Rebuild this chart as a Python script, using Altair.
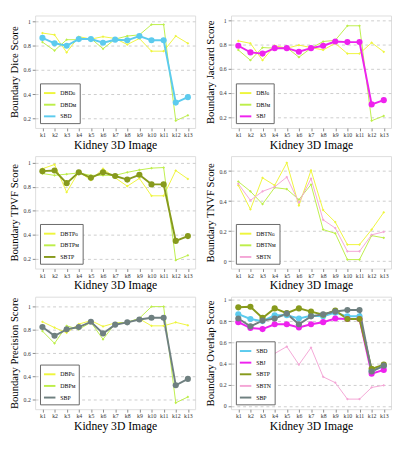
import altair as alt
import pandas as pd

images = ["k1", "k2", "k3", "k4", "k5", "k6", "k7", "k8", "k9", "k10", "k11", "k12", "k13"]

dbd_g = [0.905, 0.89, 0.745, 0.875, 0.855, 0.875, 0.86, 0.81, 0.86, 0.755, 0.755, 0.88, 0.82]
dbd_m = [0.83, 0.76, 0.85, 0.85, 0.86, 0.775, 0.855, 0.88, 0.89, 0.975, 0.975, 0.18, 0.225]
sbd = [0.865, 0.82, 0.80, 0.855, 0.855, 0.825, 0.85, 0.845, 0.88, 0.845, 0.845, 0.33, 0.375]

dbj_g = [0.83, 0.81, 0.67, 0.79, 0.77, 0.795, 0.775, 0.755, 0.81, 0.725, 0.725, 0.815, 0.74]
dbj_m = [0.755, 0.67, 0.775, 0.77, 0.775, 0.695, 0.77, 0.825, 0.835, 0.955, 0.955, 0.17, 0.21]
sbj = [0.79, 0.735, 0.725, 0.77, 0.77, 0.74, 0.77, 0.79, 0.825, 0.82, 0.82, 0.305, 0.34]

dbtp_g = [0.95, 0.985, 0.755, 0.925, 0.855, 0.95, 0.875, 0.805, 0.87, 0.725, 0.725, 0.935, 0.865]
dbtp_m = [0.91, 0.895, 0.905, 0.915, 0.895, 0.895, 0.895, 0.92, 0.94, 0.955, 0.96, 0.19, 0.23]
sbtp = [0.93, 0.935, 0.83, 0.92, 0.875, 0.92, 0.89, 0.86, 0.90, 0.82, 0.82, 0.35, 0.39]

dbtn_g = [0.505, 0.345, 0.555, 0.505, 0.655, 0.37, 0.605, 0.34, 0.26, 0.11, 0.11, 0.21, 0.325]
dbtn_m = [0.53, 0.465, 0.38, 0.49, 0.48, 0.41, 0.51, 0.21, 0.185, 0.01, 0.01, 0.17, 0.155]
sbtn = [0.515, 0.405, 0.465, 0.495, 0.56, 0.39, 0.55, 0.275, 0.22, 0.065, 0.065, 0.175, 0.195]

dbp_g = [0.87, 0.82, 0.775, 0.85, 0.88, 0.83, 0.86, 0.865, 0.895, 0.835, 0.835, 0.865, 0.84]
dbp_m = [0.79, 0.685, 0.835, 0.805, 0.865, 0.72, 0.855, 0.865, 0.90, 1.0, 1.0, 0.175, 0.225]
sbp = [0.825, 0.75, 0.805, 0.825, 0.87, 0.77, 0.845, 0.865, 0.89, 0.905, 0.905, 0.325, 0.38]

YELLOW = "#eef53c"
LIME = "#bdee4a"
C_SBD = "#5ccbee"
C_SBJ = "#ee22ee"
C_SBTP = "#879a1c"
C_SBTN = "#f4a6d6"
C_SBP = "#6f8080"

FONT = "Liberation Serif"
W, H = 165, 116


def panel(series, ytitle, ydomain, yticks):
    rows = []
    for name, vals, color, thick in series:
        for k, v in zip(images, vals):
            rows.append({"image": k, "score": v, "series": name, "thick": thick})
    df = pd.DataFrame(rows)
    names = [s[0] for s in series]
    colors = [s[2] for s in series]
    x = alt.X("image:N", sort=images, scale=alt.Scale(padding=0.6),
              axis=alt.Axis(title="Kidney 3D Image", labelAngle=0, labelFontSize=6,
                            titleFontSize=12, titleFontWeight="normal", titleFont=FONT,
                            labelFont=FONT, grid=False, tickSize=3, labelPadding=1,
                            titlePadding=2, domain=False, labelColor="#333"))
    y = alt.Y("score:Q", scale=alt.Scale(domain=ydomain, nice=False, zero=False),
              axis=alt.Axis(title=ytitle, values=yticks, format=".1~f", labelFontSize=6,
                            titleFontSize=11, titleFontWeight="normal", titleFont=FONT,
                            labelFont=FONT, grid=True, gridDash=[3, 3], gridColor="#cccccc",
                            tickSize=3, labelPadding=2, titlePadding=4, domain=False,
                            labelColor="#333"))
    color = alt.Color("series:N", sort=names,
                      scale=alt.Scale(domain=names, range=colors),
                      legend=alt.Legend(title=None, orient="bottom-left", fillColor="white",
                                        strokeColor="#666", padding=3, labelFont=FONT,
                                        labelFontSize=6, symbolType="stroke",
                                        symbolStrokeWidth=2, symbolSize=140, rowPadding=1,
                                        offset=5, labelLimit=60))
    lines = alt.Chart(df).mark_line().encode(
        x=x, y=y, color=color,
        strokeWidth=alt.StrokeWidth("thick:Q", scale=alt.Scale(domain=[0, 1], range=[1, 2]),
                                    legend=None),
        detail="series:N",
    )
    pts = alt.Chart(df).mark_point(filled=True, opacity=1).encode(
        x=x, y=y, color=alt.Color("series:N", sort=names,
                                  scale=alt.Scale(domain=names, range=colors), legend=None),
        size=alt.Size("thick:Q", scale=alt.Scale(domain=[0, 1], range=[8, 40]), legend=None),
        shape=alt.Shape("thick:N", scale=alt.Scale(domain=[0, 1], range=["diamond", "circle"]),
                        legend=None),
    )
    return alt.layer(lines, pts).properties(width=W, height=H)


p1 = panel([("DBDɢ", dbd_g, YELLOW, 0), ("DBDᴍ", dbd_m, LIME, 0), ("SBD", sbd, C_SBD, 1)],
           "Boundary Dice Score", [0.12, 1.05], [0.2, 0.4, 0.6, 0.8, 1])
p2 = panel([("DBJɢ", dbj_g, YELLOW, 0), ("DBJᴍ", dbj_m, LIME, 0), ("SBJ", sbj, C_SBJ, 1)],
           "Boundary Jaccard Score", [0.11, 1.04], [0.2, 0.4, 0.6, 0.8, 1])
p3 = panel([("DBTPɢ", dbtp_g, YELLOW, 0), ("DBTPᴍ", dbtp_m, LIME, 0), ("SBTP", sbtp, C_SBTP, 1)],
           "Boundary TPVF Score", [0.12, 1.055], [0.2, 0.4, 0.6, 0.8, 1])
p4 = panel([("DBTNɢ", dbtn_g, YELLOW, 0), ("DBTNᴍ", dbtn_m, LIME, 0), ("SBTN", sbtn, C_SBTN, 0)],
           "Boundary TNVF Score", [-0.05, 0.7], [0, 0.2, 0.4, 0.6])
p5 = panel([("DBPɢ", dbp_g, YELLOW, 0), ("DBPᴍ", dbp_m, LIME, 0), ("SBP", sbp, C_SBP, 1)],
           "Boundary Precision Score", [0.12, 1.085], [0.2, 0.4, 0.6, 0.8, 1])
p6 = panel([("SBD", sbd, C_SBD, 1), ("SBJ", sbj, C_SBJ, 1), ("SBTP", sbtp, C_SBTP, 1),
            ("SBTN", sbtn, C_SBTN, 0), ("SBP", sbp, C_SBP, 1)],
           "Boundary Overlap Score", [-0.03, 1.03], [0, 0.2, 0.4, 0.6, 0.8, 1])

row1 = alt.hconcat(p1, p2, spacing=8).resolve_scale(color="independent")
row2 = alt.hconcat(p3, p4, spacing=8).resolve_scale(color="independent")
row3 = alt.hconcat(p5, p6, spacing=8).resolve_scale(color="independent")

chart = alt.vconcat(row1, row2, row3, spacing=4).resolve_scale(
    color="independent", strokeWidth="independent", size="independent", shape="independent"
).properties(padding=0).configure_view(stroke="#555555", strokeWidth=1).configure(
    font=FONT, background="white"
)

chart.save("out.html", embed_options={"renderer": "svg", "actions": False})
